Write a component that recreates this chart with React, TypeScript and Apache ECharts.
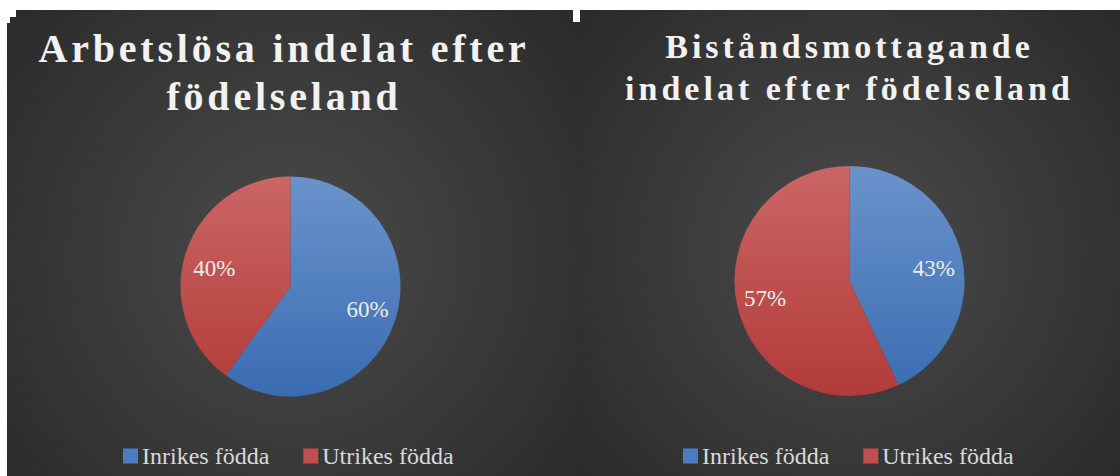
import React, { useEffect, useRef } from "react";
import * as echarts from "echarts";

const categories = ["Inrikes födda", "Utrikes födda"];
const arbetslosa = [60, 40];
const bistand = [43, 57];
const titles = ["Arbetslösa indelat efter\nfödelseland", "Biståndsmottagande\nindelat efter födelseland"];

const SERIF = "Liberation Serif";

function grad(y0: number, y1: number, top: string, bottom: string) {
  return new echarts.graphic.LinearGradient(0, y0, 0, y1, [
    { offset: 0, color: top },
    { offset: 1, color: bottom },
  ], true);
}

function radial(cx: number, cy: number, r: number) {
  return new echarts.graphic.RadialGradient(cx, cy, r, [
    { offset: 0, color: "#4b4b4b" },
    { offset: 1, color: "#262626" },
  ], true);
}

export default function App() {
  const ref = useRef<HTMLDivElement>(null);
  useEffect(() => {
    if (!ref.current) return;
    const chart = echarts.init(ref.current, undefined, { renderer: "svg" });
    const panels = [
      { values: arbetslosa, cx: 290.5, cy: 286.5, r: 110, r0: 44, legendLeft: 123, title: titles[0], titleX: 284, titleY: 24, font: 40, lh: 48, labelOffsets: [[1, -2], [0, 7]] },
      { values: bistand, cx: 849.5, cy: 281, r: 115, r0: 56, legendLeft: 683, title: titles[1], titleX: 849.5, titleY: 25, font: 34, lh: 42, labelOffsets: [[-2, 7], [2, -2]] },
    ];
    const series: any[] = [];
    const legends: any[] = [];
    panels.forEach((p) => {
      const y0 = p.cy - p.r;
      const y1 = p.cy + p.r;
      const colors = [
        grad(y0, y1, "#6a93cb", "#3a6cb2"),
        grad(y0, y1, "#ca6664", "#b23b39"),
      ];
      series.push({
        type: "pie",
        center: [p.cx, p.cy],
        radius: [0, p.r],
        startAngle: 90,
        clockwise: true,
        silent: true,
        label: { show: false },
        labelLine: { show: false },
        itemStyle: { borderWidth: 0 },
        data: categories.map((c, i) => ({ name: c, value: p.values[i], itemStyle: { color: colors[i] } })),
      });
      series.push({
        type: "pie",
        center: [p.cx, p.cy],
        radius: [p.r0, p.r],
        startAngle: 90,
        clockwise: true,
        silent: true,
        itemStyle: { color: "rgba(0,0,0,0)", borderWidth: 0 },
        label: {
          show: true,
          position: "inside",
          formatter: "{c}%",
          color: "#ececec",
          fontFamily: SERIF,
          fontWeight: "normal",
          fontSize: 23,
        },
        labelLine: { show: false },
        data: categories.map((c, i) => ({ name: c, value: p.values[i], label: { offset: p.labelOffsets[i] } })),
      });
      legends.push({
        left: p.legendLeft,
        top: 444,
        orient: "horizontal",
        icon: "rect",
        itemWidth: 15,
        itemHeight: 15,
        itemGap: 34,
        padding: 0,
        selectedMode: false,
        textStyle: { color: "#d9d9d9", fontFamily: SERIF, fontSize: 24, padding: [0, 0, 0, -1] },
        data: [
          { name: categories[0], itemStyle: { color: "#4a7cc0" } },
          { name: categories[1], itemStyle: { color: "#c0504d" } },
        ],
      });
    });

    const graphic: any[] = [
      { type: "rect", shape: { x: 7, y: 10, width: 570, height: 466 }, style: { fill: radial(290, 255, 420) }, z: -10 },
      { type: "rect", shape: { x: 576, y: 10, width: 544, height: 466 }, style: { fill: radial(850, 250, 400) }, z: -10 },
      { type: "rect", shape: { x: 573, y: 10, width: 7, height: 12 }, style: { fill: "#ffffff" }, z: -9 },
      { type: "rect", shape: { x: 7, y: 10, width: 9, height: 7 }, style: { fill: "#ffffff" }, z: -9 },
      { type: "rect", shape: { x: 7, y: 17, width: 3, height: 6 }, style: { fill: "#ffffff" }, z: -9 },
    ];
    panels.forEach((p) => {
      graphic.push({
        type: "text",
        x: p.titleX,
        y: p.titleY,
        z: 10,
        style: {
          text: p.title,
          font: `bold ${p.font}px "${SERIF}"`,
          fill: "#f2f2f2",
          textAlign: "center",
          textVerticalAlign: "top",
          lineHeight: p.lh,
        },
      });
    });

    chart.setOption({
      animation: false,
      backgroundColor: "#ffffff",
      textStyle: { fontFamily: SERIF },
      graphic,
      legend: legends,
      series,
    });
    return () => chart.dispose();
  }, []);
  return (
    <div style={{ position: "fixed", left: 0, top: 0, width: 1120, height: 476 }}>
      <style>{`.chartbox text[style*="40px"] { letter-spacing: 3.8px; } .chartbox text[style*="34px"] { letter-spacing: 4px; }`}</style>
      <div className="chartbox" ref={ref} style={{ width: 1120, height: 476 }} />
    </div>
  );
}
